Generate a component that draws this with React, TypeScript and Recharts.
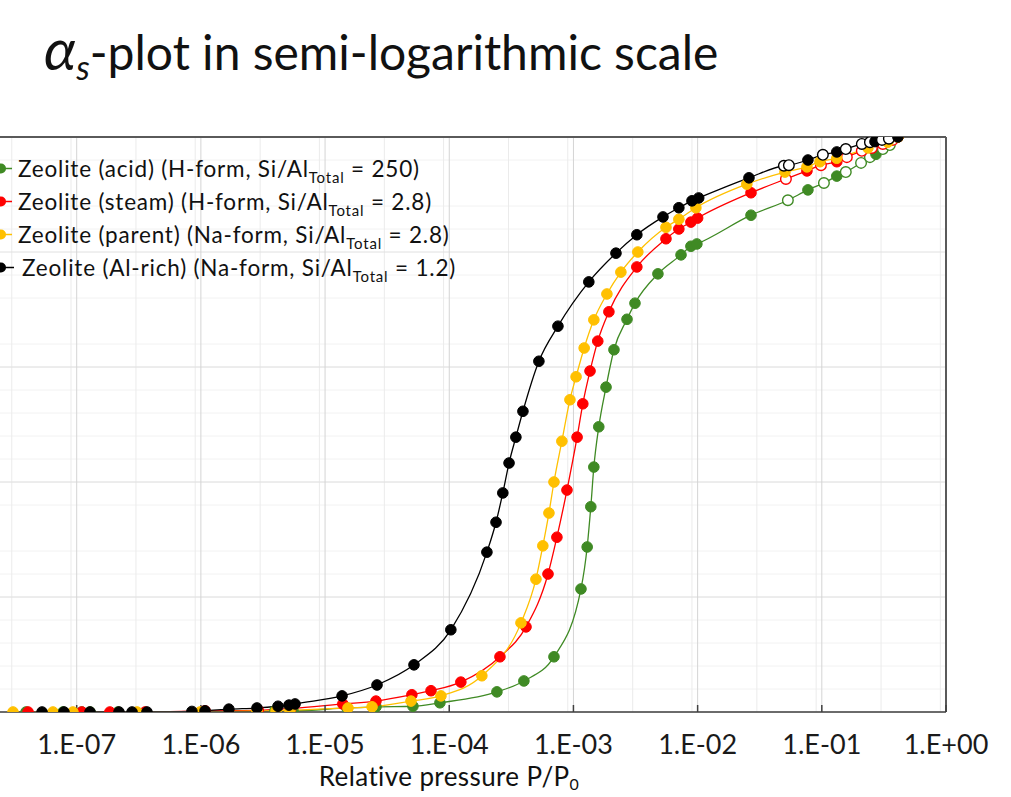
import { LineChart, Line, XAxis, YAxis, CartesianGrid, ReferenceLine } from "recharts"

// relative pressure P/P0 and normalised uptake
const acidP = [3.91e-8, 7.76e-8, 1.1e-7, 1.28e-7, 2.15e-7, 1.08e-6, 3.95e-6, 5.52e-6, 1.5e-5, 2.57e-5, 5.1e-5, 8.41e-5, 2.42e-4, 3.99e-4, 6.97e-4, 1.15e-3, 1.29e-3, 1.38e-3, 1.46e-3, 1.6e-3, 1.83e-3, 2.12e-3, 2.7e-3, 3.13e-3, 4.79e-3, 7.35e-3, 8.83e-3, 9.86e-3, 2.69e-2, 5.33e-2, 7.73e-2, 0.104, 0.132, 0.156, 0.207, 0.244, 0.273, 0.31, 0.353, 0.41]
const acidV = [0, 0, 0, 0, 0, 0, 0.002, 0.002, 0.007, 0.009, 0.01, 0.016, 0.035, 0.054, 0.096, 0.214, 0.287, 0.357, 0.426, 0.496, 0.565, 0.63, 0.683, 0.711, 0.762, 0.795, 0.81, 0.814, 0.864, 0.89, 0.908, 0.92, 0.932, 0.939, 0.955, 0.965, 0.97, 0.979, 0.986, 1.0]
const acidOpen = [29, 31, 33, 34, 35, 37, 38]

const steamP = [4.06e-8, 1.1e-7, 1.85e-7, 3.55e-7, 1.08e-6, 2.9e-6, 5.3e-6, 1.39e-5, 2.57e-5, 5.0e-5, 7.13e-5, 1.24e-4, 2.56e-4, 4.15e-4, 6.24e-4, 7.36e-4, 8.87e-4, 1.07e-3, 1.19e-3, 1.36e-3, 1.57e-3, 1.93e-3, 3.24e-3, 5.56e-3, 7.06e-3, 8.83e-3, 1.0e-2, 2.69e-2, 5.14e-2, 7.59e-2, 9.84e-2, 0.132, 0.159, 0.21, 0.253, 0.31, 0.373, 0.41]
const steamV = [0, 0, 0, 0, 0.002, 0.003, 0.006, 0.014, 0.019, 0.03, 0.037, 0.052, 0.096, 0.148, 0.24, 0.304, 0.386, 0.478, 0.536, 0.593, 0.645, 0.696, 0.774, 0.823, 0.84, 0.852, 0.859, 0.903, 0.927, 0.941, 0.951, 0.957, 0.965, 0.976, 0.981, 0.988, 0.995, 1.0]
const steamOpen = [28, 30, 32, 33, 34, 35, 36]

const parentP = [3.07e-8, 6.44e-8, 9.33e-8, 3.06e-7, 9.84e-7, 2.83e-6, 4.03e-6, 5.21e-6, 1.53e-5, 2.39e-5, 4.92e-5, 8.57e-5, 1.83e-4, 3.78e-4, 4.99e-4, 5.67e-4, 6.35e-4, 6.97e-4, 8.07e-4, 9.37e-4, 1.05e-3, 1.22e-3, 1.46e-3, 1.86e-3, 2.41e-3, 3.3e-3, 5.56e-3, 7.06e-3, 9.68e-3, 2.49e-2, 5.05e-2, 7.59e-2, 9.66e-2, 0.132, 0.235, 0.34, 0.41]
const parentV = [0, 0, 0, 0, 0, 0.002, 0.002, 0.003, 0.007, 0.009, 0.019, 0.028, 0.063, 0.155, 0.231, 0.289, 0.346, 0.4, 0.471, 0.543, 0.583, 0.633, 0.682, 0.727, 0.765, 0.8, 0.843, 0.857, 0.877, 0.918, 0.939, 0.948, 0.957, 0.963, 0.981, 0.991, 1.0]
const parentOpen: number[] = []

const alRichP = [5.26e-8, 7.9e-8, 1.28e-7, 2.19e-7, 2.79e-7, 3.68e-7, 8.47e-7, 1.08e-6, 1.68e-6, 2.83e-6, 4.18e-6, 5.12e-6, 5.73e-6, 1.37e-5, 2.62e-5, 5.2e-5, 1.03e-4, 2.01e-4, 2.38e-4, 2.7e-4, 3.03e-4, 3.44e-4, 3.92e-4, 5.27e-4, 7.5e-4, 1.33e-3, 2.2e-3, 3.24e-3, 5.26e-3, 7.06e-3, 9.0e-3, 1.02e-2, 2.59e-2, 4.95e-2, 5.43e-2, 7.73e-2, 0.102, 0.132, 0.156, 0.21, 0.244, 0.268, 0.305, 0.347, 0.41]
const alRichV = [0, 0, 0, 0, 0, 0, 0.001, 0.002, 0.005, 0.007, 0.01, 0.012, 0.014, 0.028, 0.047, 0.082, 0.143, 0.278, 0.33, 0.381, 0.433, 0.478, 0.523, 0.61, 0.671, 0.748, 0.798, 0.83, 0.861, 0.877, 0.889, 0.894, 0.929, 0.95, 0.951, 0.96, 0.969, 0.974, 0.979, 0.988, 0.991, 0.992, 0.995, 0.997, 1.0]
const alRichOpen = [33, 34, 36, 38, 39, 40, 42, 43]

const decades = [1e-8, 1e-7, 1e-6, 1e-5, 1e-4, 1e-3, 1e-2, 1e-1, 1]
const minorX = decades.slice(0, -1).flatMap((d) => [2, 3, 4, 5, 6, 7, 8, 9].map((m) => m * d))
const majorY = [0, 0.2, 0.4, 0.6, 0.8, 1]
const minorY = Array.from({ length: 26 }, (_, i) => i * 0.04)

const build = (p: number[], v: number[], open: number[]) =>
  p.map((x, i) => ({ p: x, v: v[i], open: open.includes(i) }))

const series = [
  { key: "acid", color: "#3f8a24", data: build(acidP, acidV, acidOpen), name: "Zeolite (acid) (H-form, Si/Al", tail: " = 250)" },
  { key: "steam", color: "#ff0000", data: build(steamP, steamV, steamOpen), name: "Zeolite (steam) (H-form, Si/Al", tail: " = 2.8)" },
  { key: "parent", color: "#ffc000", data: build(parentP, parentV, parentOpen), name: "Zeolite (parent) (Na-form, Si/Al", tail: " = 2.8)" },
  { key: "alrich", color: "#000000", data: build(alRichP, alRichV, alRichOpen), name: "Zeolite (Al-rich) (Na-form, Si/Al", tail: " = 1.2)" },
]

const font = "Lato, 'DejaVu Sans', sans-serif"

const fmt = (v: number) => {
  const e = Math.round(Math.log10(v))
  return `1.E${e < 0 ? "-" : "+"}${String(Math.abs(e)).padStart(2, "0")}`
}

function makeDot(color: string) {
  return (props: any) => {
    const { cx, cy, payload, index } = props
    if (cx == null || cy == null) return <g key={`n-${index}`} />
    return (
      <circle
        key={`d-${index}`}
        cx={cx}
        cy={cy}
        r={5.3}
        fill={payload.open ? "#ffffff" : color}
        stroke={color}
        strokeWidth={payload.open ? 1.4 : 1}
      />
    )
  }
}

export default function App() {
  return (
    <div style={{ position: "fixed", left: 0, top: 0, width: 1011, height: 797, background: "#fff", overflow: "hidden", fontFamily: font, color: "#111" }}>
      <div style={{ position: "absolute", left: 44, top: 13, fontSize: 48, whiteSpace: "nowrap" }}>
        <i style={{ fontSize: 58 }}>α</i>
        <sub style={{ fontSize: 34, fontStyle: "italic", verticalAlign: "-10px", lineHeight: 0 }}>s</sub>-plot in semi-logarithmic scale
      </div>

      <div style={{ position: "absolute", left: -60, top: 127 }}>
        <LineChart width={1076} height={675} margin={{ top: 10, right: 70, bottom: 0, left: 12.5 }}>
          <CartesianGrid vertical={false} horizontalValues={minorY} stroke="#f2f2f2" />
          <CartesianGrid horizontal={false} verticalValues={minorX} stroke="#ebebeb" />
          <CartesianGrid vertical={false} horizontalValues={majorY} stroke="#e0e0e0" />
          <CartesianGrid horizontal={false} verticalValues={decades} stroke="#d4d4d4" />
          <XAxis
            dataKey="p"
            type="number"
            scale="log"
            domain={[1e-8, 1]}
            allowDataOverflow
            ticks={decades}
            tickFormatter={fmt}
            height={90}
            tickSize={-7}
            tickMargin={30}
            tickLine={{ stroke: "#404040", strokeWidth: 1.5 }}
            axisLine={{ stroke: "#404040", strokeWidth: 1.5 }}
            tick={{ fill: "#1a1a1a", fontSize: 27, fontFamily: font }}
          />
          <YAxis hide type="number" domain={[0, 1]} allowDataOverflow />
          <ReferenceLine y={1} stroke="#5a5a5a" strokeWidth={2} />
          <ReferenceLine x={1} stroke="#5a5a5a" strokeWidth={2} />
          {series.map((s) => (
            <Line
              key={s.key}
              data={s.data}
              dataKey="v"
              type="monotone"
              stroke={s.color}
              strokeWidth={1.3}
              dot={makeDot(s.color)}
              activeDot={false}
              isAnimationActive={false}
            />
          ))}
        </LineChart>
      </div>

      <div style={{ position: "absolute", left: 0, top: 152, fontSize: 22.5, letterSpacing: 0.8 }}>
        {series.map((s, i) => (
          <div key={s.key} style={{ position: "relative", height: 33, lineHeight: "33px", whiteSpace: "nowrap" }}>
            <svg width={16} height={33} style={{ position: "absolute", left: 0, top: 0 }}>
              <line x1={0} y1={16.5} x2={12 + (i === 3 ? 2 : 0)} y2={16.5} stroke={s.color} strokeWidth={1.5} />
              <circle cx={1} cy={16.5} r={5} fill={s.color} />
            </svg>
            <span style={{ position: "absolute", left: i === 3 ? 22 : 18, top: 0 }}>
              {s.name}
              <sub style={{ fontSize: 15, verticalAlign: "-6px", lineHeight: 0 }}>Total</sub>
              {s.tail}
            </span>
          </div>
        ))}
      </div>

      <div style={{ position: "absolute", left: 0, width: 898, top: 760, textAlign: "center", fontSize: 26, letterSpacing: 0.4, whiteSpace: "nowrap" }}>
        Relative pressure P/P<sub style={{ fontSize: 16, verticalAlign: "-4px", lineHeight: 0 }}>0</sub>
      </div>
    </div>
  )
}
